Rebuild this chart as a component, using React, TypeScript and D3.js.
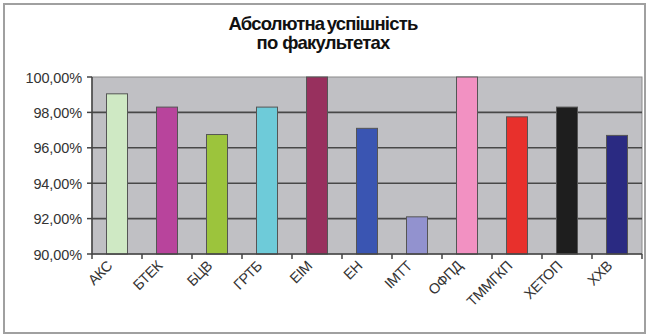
import React from "react";
import * as d3 from "d3";

// Faculties and their absolute success rate, %
const faculties = ["АКС", "БТЕК", "БЦВ", "ГРТБ", "ЕІМ", "ЕН", "ІМТТ", "ОФПД", "ТММГКП", "ХЕТОП", "ХХВ"];
const successRate = [99.05, 98.3, 96.75, 98.3, 100, 97.1, 92.1, 100, 97.75, 98.3, 96.7];
const barColors = ["#cfe9c4", "#b8449c", "#9cc43c", "#6ecbd9", "#98305e", "#3a55b2", "#9292cf", "#f291c2", "#e8302c", "#1e1e1e", "#2a2a82"];
const yTicks = [90, 92, 94, 96, 98, 100];
const titleLines = ["Абсолютна успішність", "по  факультетах"];

const W = 648;
const H = 335;
const plot = { left: 92, right: 642, top: 77, bottom: 254 };
const font = "Arial, 'Liberation Sans', sans-serif";

export default function App() {
  const x = d3
    .scaleBand<string>()
    .domain(faculties)
    .range([plot.left, plot.right])
    .paddingInner(0.58)
    .paddingOuter(0.29);
  const y = d3.scaleLinear().domain([90, 100]).range([plot.bottom, plot.top]);
  const step = x.step();
  const fmt = (v: number) => v.toFixed(2).replace(".", ",") + "%";

  return (
    <svg
      width={W}
      height={H}
      style={{ position: "absolute", left: 0, top: 0, background: "#fff" }}
    >
      <rect x={4} y={4} width={641} height={329} fill="#fff" stroke="#a0a0a0" strokeWidth={2} />

      {/* title */}
      {titleLines.map((t, i) => (
        <text
          key={t}
          x={323}
          y={30 + i * 19}
          textAnchor="middle"
          fontFamily={font}
          fontWeight="bold"
          fontSize={18.5}
          letterSpacing={-0.8}
          wordSpacing={-2}
          fill="#111"
          style={{ whiteSpace: "pre" }}
        >
          {t}
        </text>
      ))}

      {/* plot area */}
      <rect
        x={plot.left}
        y={plot.top}
        width={plot.right - plot.left}
        height={plot.bottom - plot.top}
        fill="#c0c0c4"
        stroke="#8a8a8a"
        strokeWidth={1}
      />
      {yTicks
        .filter((v) => v > 90 && v < 100)
        .map((v) => (
          <line
            key={v}
            x1={plot.left}
            x2={plot.right}
            y1={y(v)}
            y2={y(v)}
            stroke="#484848"
            strokeWidth={1.6}
          />
        ))}

      {/* bars */}
      {faculties.map((f, i) => (
        <rect
          key={f}
          x={x(f)!}
          y={y(successRate[i])}
          width={x.bandwidth()}
          height={plot.bottom - y(successRate[i])}
          fill={barColors[i]}
          stroke="#555"
          strokeWidth={1}
        />
      ))}

      {/* y axis */}
      <line x1={plot.left} x2={plot.left} y1={plot.top} y2={plot.bottom} stroke="#444" strokeWidth={1.5} />
      {yTicks.map((v) => (
        <g key={v}>
          <line x1={plot.left - 5} x2={plot.left} y1={y(v)} y2={y(v)} stroke="#444" strokeWidth={1.5} />
          <text
            x={82}
            y={y(v) + 5.5}
            textAnchor="end"
            fontFamily={font}
            fontSize={14.5}
            letterSpacing={-0.1}
            fill="#333"
          >
            {fmt(v)}
          </text>
        </g>
      ))}

      {/* x axis */}
      <line x1={plot.left} x2={plot.right} y1={plot.bottom} y2={plot.bottom} stroke="#444" strokeWidth={1.5} />
      {faculties.map((f, i) => (
        <line
          key={f}
          x1={plot.left + i * step}
          x2={plot.left + i * step}
          y1={plot.bottom}
          y2={plot.bottom + 5}
          stroke="#444"
          strokeWidth={1.5}
        />
      ))}
      <line x1={plot.right} x2={plot.right} y1={plot.bottom} y2={plot.bottom + 5} stroke="#444" strokeWidth={1.5} />
      {faculties.map((f) => {
        const cx = x(f)! + x.bandwidth() / 2 - 4;
        const cy = 267;
        return (
          <text
            key={f}
            transform={`translate(${cx},${cy}) rotate(-45)`}
            textAnchor="end"
            fontFamily={font}
            fontSize={14.5}
            letterSpacing={-0.5}
            fill="#333"
          >
            {f}
          </text>
        );
      })}
    </svg>
  );
}
